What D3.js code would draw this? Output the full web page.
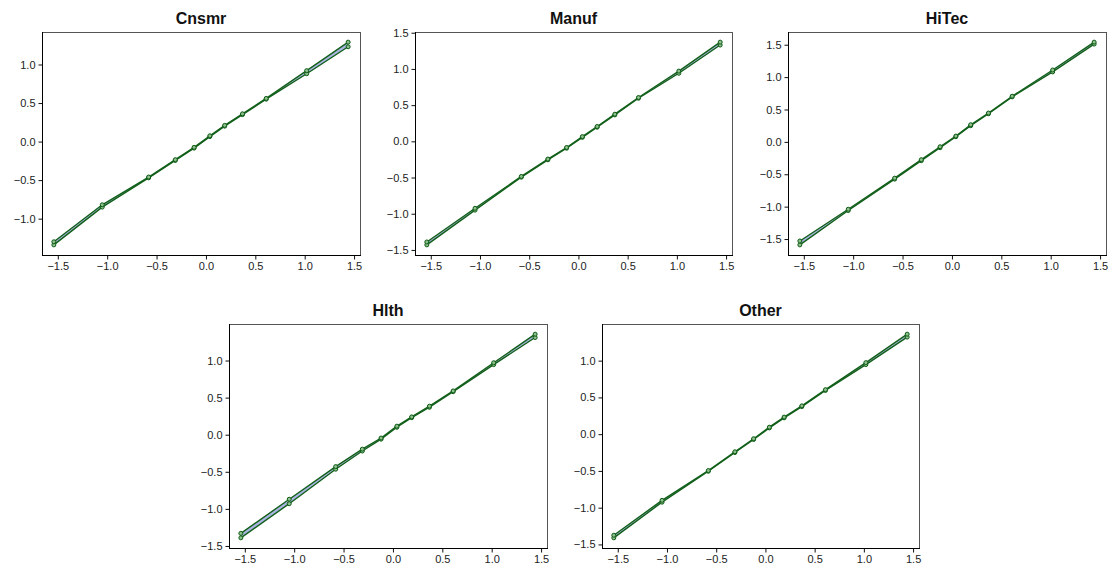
<!DOCTYPE html>
<html>
<head>
<meta charset="utf-8">
<script src="https://cdn.jsdelivr.net/npm/d3@7"></script>
<style>
  body { margin: 0; background: #fff; }
  svg { display: block; font-family: "Liberation Sans", Arial, sans-serif; }
</style>
</head>
<body>
<svg id="chart"></svg>
<script>
// sector names, in drawing order
let sectors = ["Cnsmr", "Manuf", "HiTec", "Hlth", "Other"]

// theoretical quantiles (shared x values)
let xq = [-1.54, -1.05, -0.58, -0.31, -0.12, 0.04, 0.19, 0.37, 0.61, 1.02, 1.44]

// lower / upper series per sector
let cnsmrLo = [-1.34, -0.85, -0.47, -0.245, -0.085, 0.065, 0.20, 0.35, 0.55, 0.88, 1.23]
let cnsmrHi = [-1.30, -0.82, -0.46, -0.235, -0.075, 0.075, 0.21, 0.36, 0.56, 0.92, 1.29]
let manufLo = [-1.43, -0.95, -0.495, -0.255, -0.095, 0.055, 0.195, 0.365, 0.595, 0.94, 1.33]
let manufHi = [-1.39, -0.925, -0.485, -0.245, -0.085, 0.065, 0.205, 0.375, 0.605, 0.97, 1.37]
let hitecLo = [-1.59, -1.06, -0.575, -0.29, -0.09, 0.08, 0.25, 0.435, 0.695, 1.08, 1.51]
let hitecHi = [-1.53, -1.04, -0.56, -0.275, -0.075, 0.09, 0.265, 0.445, 0.705, 1.11, 1.54]
let hlthLo = [-1.39, -0.93, -0.465, -0.22, -0.06, 0.10, 0.23, 0.37, 0.58, 0.945, 1.31]
let hlthHi = [-1.33, -0.87, -0.43, -0.195, -0.045, 0.115, 0.24, 0.385, 0.59, 0.97, 1.355]
let otherLo = [-1.41, -0.925, -0.505, -0.25, -0.072, 0.085, 0.222, 0.375, 0.595, 0.946, 1.32]
let otherHi = [-1.375, -0.90, -0.495, -0.24, -0.062, 0.095, 0.232, 0.385, 0.605, 0.973, 1.36]

let tickVals = [-1.5, -1.0, -0.5, 0.0, 0.5, 1.0, 1.5]

let series = {
    Cnsmr: [cnsmrLo, cnsmrHi],
    Manuf: [manufLo, manufHi],
    HiTec: [hitecLo, hitecHi],
    Hlth: [hlthLo, hlthHi],
    Other: [otherLo, otherHi]
}

// panel boxes (left, top, width, height)
let boxes = [
    { left: 42, top: 32, w: 318, h: 223 },
    { left: 415, top: 32, w: 317, h: 223 },
    { left: 788, top: 32, w: 318, h: 223 },
    { left: 229, top: 324, w: 318, h: 224 },
    { left: 602, top: 324, w: 317, h: 224 }
]

let lineColor = "#12601a",
    bandColor = "#aab4e2"

let svg = d3.select("#chart")
    .attr("width", 1110)
    .attr("height", 567)

sectors.forEach(function (name, i) {
    let b = boxes[i]
    let lo = series[name][0], hi = series[name][1]
    let pts = xq.map(function (x, j) { return { x: x, lo: lo[j], hi: hi[j] } })

    let ymin = d3.min(lo.concat(hi)), ymax = d3.max(lo.concat(hi))
    let pad = (ymax - ymin) * 0.05

    let x = d3.scaleLinear().domain([-1.66, 1.56]).range([0, b.w])
    let y = d3.scaleLinear().domain([ymin - pad, ymax + pad]).range([b.h, 0])

    let g = svg.append("g")
        .attr("transform", "translate(" + b.left + "," + b.top + ")")

    let band = d3.area()
        .x(function (d) { return x(d.x) })
        .y0(function (d) { return y(d.lo) })
        .y1(function (d) { return y(d.hi) })

    g.append("path")
        .datum(pts)
        .attr("d", band)
        .attr("fill", bandColor)

    let lines = [
        d3.line().x(function (d) { return x(d.x) }).y(function (d) { return y(d.lo) }),
        d3.line().x(function (d) { return x(d.x) }).y(function (d) { return y(d.hi) })
    ]
    lines.forEach(function (ln) {
        g.append("path")
            .datum(pts)
            .attr("d", ln)
            .attr("fill", "none")
            .attr("stroke", lineColor)
            .attr("stroke-width", 1.4)
    })

    ;["lo", "hi"].forEach(function (k) {
        g.selectAll(".m" + k)
            .data(pts)
            .enter().append("circle")
            .attr("cx", function (d) { return x(d.x) })
            .attr("cy", function (d) { return y(d[k]) })
            .attr("r", 2)
            .attr("fill", "#8fbf8f")
            .attr("stroke", "#0b5a12")
            .attr("stroke-width", 1)
    })

    // frame: top/right grey, axes black
    g.append("rect")
        .attr("x", 0.5).attr("y", 0.5)
        .attr("width", b.w).attr("height", b.h)
        .attr("fill", "none")
        .attr("stroke", "#555")
        .attr("stroke-width", 1)

    let yTicks = tickVals.filter(function (t) { return t >= y.domain()[0] && t <= y.domain()[1] })
    let xTicks = tickVals.filter(function (t) { return t >= x.domain()[0] && t <= x.domain()[1] })

    let gy = g.append("g")
        .attr("transform", "translate(0.5,0)")
        .call(d3.axisLeft(y).tickValues(yTicks).tickFormat(d3.format(".1f")).tickSize(4).tickPadding(3))
    let gx = g.append("g")
        .attr("transform", "translate(0," + (b.h + 0.5) + ")")
        .call(d3.axisBottom(x).tickValues(xTicks).tickFormat(d3.format(".1f")).tickSize(4).tickPadding(3))

    ;[gx, gy].forEach(function (ax) {
        ax.select(".domain").remove()
        ax.selectAll("line").attr("stroke", "#111")
        ax.selectAll("text")
            .attr("fill", "#222")
            .style("font-size", "11px")
            .style("font-family", "'Liberation Sans', Arial, sans-serif")
    })
    g.append("line")
        .attr("x1", 0.5).attr("x2", 0.5).attr("y1", 0).attr("y2", b.h + 1)
        .attr("stroke", "#000")
    g.append("line")
        .attr("x1", 0).attr("x2", b.w + 1).attr("y1", b.h + 0.5).attr("y2", b.h + 0.5)
        .attr("stroke", "#000")

    svg.append("text")
        .attr("x", b.left + b.w / 2)
        .attr("y", b.top - 8)
        .attr("text-anchor", "middle")
        .style("font-size", "16px")
        .style("font-weight", "bold")
        .attr("fill", "#111")
        .text(name)
})
</script>
</body>
</html>
